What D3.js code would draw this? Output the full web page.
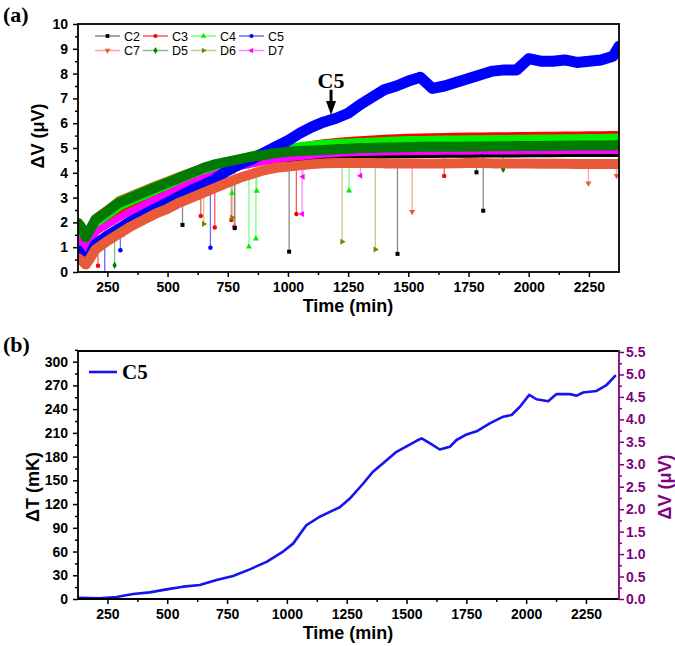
<!DOCTYPE html>
<html>
<head>
<meta charset="utf-8">
<script src="https://cdn.jsdelivr.net/npm/d3@7"></script>
<style>
  body { margin: 0; background: #fff; }
  svg text { font-family: Arial, "Liberation Sans", sans-serif; }
</style>
</head>
<body>
<svg id="chart" width="675" height="646"></svg>
<script>
// ---- panel (a) data: Delta V (uV) per sensor ----
const times = [130,145,160,175,200,250,300,350,400,450,500,550,600,650,700,750,800,850,900,950,1000,1050,1100,1150,1200,1250,1300,1350,1400,1450,1500,1550,1600,1650,1700,1750,1800,1850,1900,1950,2000,2050,2100,2150,2200,2250,2300,2350,2375];
const c2 = [0.7,0.5,0.33,0.58,1.0,1.35,1.65,1.95,2.2,2.45,2.65,2.9,3.1,3.3,3.5,3.7,3.9,4.05,4.2,4.3,4.4,4.45,4.5,4.55,4.58,4.6,4.62,4.63,4.64,4.65,4.65,4.66,4.66,4.67,4.67,4.67,4.68,4.68,4.68,4.68,4.69,4.69,4.69,4.7,4.7,4.7,4.7,4.7,4.7];
const c3 = [1.7,1.5,1.15,1.4,1.85,2.2,2.55,2.8,3.0,3.2,3.4,3.6,3.8,4.0,4.18,4.33,4.47,4.6,4.72,4.83,4.93,5.02,5.1,5.17,5.22,5.26,5.29,5.32,5.35,5.37,5.39,5.4,5.41,5.42,5.43,5.44,5.44,5.45,5.45,5.46,5.46,5.47,5.47,5.48,5.48,5.49,5.49,5.5,5.5];
const c4 = [1.8,1.6,1.25,1.5,1.95,2.3,2.65,2.88,3.08,3.3,3.5,3.7,3.9,4.1,4.28,4.42,4.55,4.68,4.8,4.9,4.98,5.05,5.1,5.15,5.18,5.2,5.22,5.24,5.26,5.28,5.3,5.3,5.31,5.32,5.32,5.33,5.33,5.34,5.34,5.35,5.35,5.36,5.36,5.37,5.37,5.38,5.38,5.39,5.4];
const c5 = [0.85,0.6,0.35,0.6,1.1,1.45,1.75,2.05,2.3,2.55,2.8,3.05,3.3,3.5,3.75,4.1,4.35,4.55,4.8,5.05,5.3,5.6,5.85,6.05,6.2,6.4,6.75,7.05,7.35,7.5,7.7,7.85,7.4,7.5,7.65,7.8,7.95,8.1,8.15,8.15,8.6,8.5,8.5,8.55,8.45,8.5,8.55,8.7,9.1];
const c7 = [0.55,0.45,0.3,0.5,0.9,1.25,1.55,1.85,2.1,2.35,2.55,2.8,3.0,3.2,3.4,3.6,3.8,3.95,4.1,4.2,4.25,4.3,4.35,4.38,4.4,4.4,4.4,4.4,4.38,4.38,4.38,4.38,4.37,4.37,4.38,4.4,4.4,4.38,4.38,4.37,4.37,4.36,4.36,4.36,4.35,4.35,4.35,4.35,4.35];
const d5 = [1.95,1.75,1.4,1.65,2.1,2.45,2.8,3.0,3.2,3.4,3.6,3.8,4.0,4.2,4.35,4.45,4.55,4.65,4.72,4.8,4.85,4.88,4.9,4.92,4.95,4.97,5.0,5.0,5.02,5.02,5.03,5.05,5.05,5.05,5.05,5.06,5.06,5.07,5.07,5.08,5.08,5.08,5.09,5.09,5.1,5.1,5.1,5.1,5.12];
const d6 = [2.0,1.8,1.45,1.7,2.15,2.5,2.88,3.08,3.28,3.48,3.66,3.85,4.03,4.2,4.33,4.42,4.5,4.58,4.63,4.68,4.72,4.75,4.77,4.78,4.8,4.8,4.82,4.82,4.83,4.83,4.84,4.85,4.85,4.85,4.85,4.86,4.86,4.86,4.86,4.87,4.87,4.87,4.88,4.88,4.88,4.88,4.88,4.89,4.9];
const d7 = [1.3,1.15,0.95,1.15,1.6,1.9,2.2,2.45,2.7,2.95,3.15,3.4,3.6,3.8,3.95,4.1,4.25,4.35,4.45,4.5,4.55,4.6,4.62,4.65,4.67,4.7,4.72,4.73,4.74,4.75,4.75,4.76,4.76,4.77,4.77,4.77,4.78,4.78,4.78,4.78,4.79,4.79,4.79,4.8,4.8,4.8,4.8,4.8,4.8];

// isolated drop-outs: [series, time, value]
const spikes = [
  ["C3",211,0.25],["C3",314,1.5],["C3",638,2.26],["C3",696,1.79],["C3",765,2.1],["C3",778,1.82],["C3",1035,2.34],["C3",1649,3.87],
  ["C5",239,-0.3],["C5",304,0.88],["C5",678,0.98],
  ["D5",280,0.27],["D5",1894,4.14],
  ["C2",562,1.9],["C2",779,1.77],["C2",1005,0.82],["C2",1455,0.73],["C2",1783,4.02],["C2",1811,2.47],
  ["D6",650,1.94],["D6",768,2.2],["D6",1225,1.22],["D6",1363,0.91],
  ["C4",768,3.18],["C4",838,1.02],["C4",867,1.34],["C4",870,3.27],["C4",1254,3.28],
  ["D7",1059,2.34],["D7",1062,3.84],["D7",1301,3.88],
  ["C7",1516,2.43],["C7",2248,3.58],["C7",2365,3.88]
];

const xTicksA = [250,500,750,1000,1250,1500,1750,2000,2250];
const xMinorA = [375,625,875,1125,1375,1625,1875,2125];
const yTicksA = [0,1,2,3,4,5,6,7,8,9,10];

// ---- panel (b) data: Delta T (mK) of C5 ----
const bTimes = [130,218,288,357,427,497,566,636,706,775,845,915,984,1026,1082,1137,1193,1221,1263,1319,1360,1402,1458,1500,1542,1563,1597,1639,1681,1709,1751,1793,1848,1904,1939,1974,2013,2043,2092,2127,2183,2211,2238,2294,2336,2375];
const bDeltaT = [1.5,1.0,2.5,6.3,8.4,12.2,15.6,17.7,24,29,37.5,47,60,70,93.5,104,112,116,127,146,161,171.5,186,193,200,203,197,189,192.5,201,208,212,222,230.5,232.6,243,258,252.5,250,259,259,257,261,263,270.5,283];
const yTicksB = [0,30,60,90,120,150,180,210,240,270,300];
const yTicksB2 = ["0.0","0.5","1.0","1.5","2.0","2.5","3.0","3.5","4.0","4.5","5.0","5.5"];

// ---- series styles ----
const series = [
  { name: "C2", values: c2, color: "#000000", legend: "#8a8a8a", sym: d3.symbolSquare, rot: 0, w: 3 },
  { name: "C3", values: c3, color: "#ff0000", legend: "#ff5a5a", sym: d3.symbolCircle, rot: 0, w: 9 },
  { name: "C4", values: c4, color: "#00ee00", legend: "#7cff7c", sym: d3.symbolTriangle, rot: 0, w: 9 },
  { name: "C5", values: c5, color: "#0000ff", legend: "#6a6aff", sym: d3.symbolCircle, rot: 0, w: 11 },
  { name: "C7", values: c7, color: "#e85a3a", legend: "#f7a898", sym: d3.symbolTriangle, rot: 180, w: 10 },
  { name: "D5", values: d5, color: "#007a00", legend: "#80bf80", sym: d3.symbolDiamond, rot: 0, w: 10 },
  { name: "D6", values: d6, color: "#808000", legend: "#c8c890", sym: d3.symbolTriangle, rot: 90, w: 9 },
  { name: "D7", values: d7, color: "#ff00ff", legend: "#ff88ff", sym: d3.symbolTriangle, rot: -90, w: 7 }
];
const byName = {};
series.forEach(s => byName[s.name] = s);
// draw order (last on top)
const drawOrder = ["C3", "C4", "D6", "D7", "C2", "C5", "C7", "D5"];

const serif = "'Liberation Serif', 'Times New Roman', serif";
const svg = d3.select("#chart");

// ================= panel (a) =================
const xA = d3.scaleLinear().domain([128, 2375]).range([78, 619]);
const yA = d3.scaleLinear().domain([0, 10]).range([272, 24]);

svg.append("clipPath").attr("id", "clipA")
  .append("rect").attr("x", 78).attr("y", 24).attr("width", 541).attr("height", 248);

const plotA = svg.append("g").attr("clip-path", "url(#clipA)");

const line = d3.line()
  .x((d, i) => xA(times[i]))
  .y(d => yA(d));

// spikes go under the bands
spikes.forEach(([name, t, v]) => {
  const s = byName[name];
  const band = d3.scaleLinear().domain(times).range(s.values);
  plotA.append("line")
    .attr("x1", xA(t)).attr("x2", xA(t))
    .attr("y1", yA(band(t))).attr("y2", yA(v))
    .attr("stroke", s.legend)
    .attr("stroke-width", 1.3);
  plotA.append("path")
    .attr("d", d3.symbol().type(s.sym).size(16)())
    .attr("transform", `translate(${xA(t)},${yA(v)}) rotate(${s.rot})`)
    .attr("fill", s.color);
});

drawOrder.forEach(name => {
  const s = byName[name];
  plotA.append("path")
    .datum(s.values)
    .attr("d", line)
    .attr("fill", "none")
    .attr("stroke", s.color)
    .attr("stroke-width", s.w)
    .attr("stroke-linejoin", "round")
    .attr("stroke-linecap", "round");
});

// axes (a)
const axA = svg.append("g");
axA.append("g").attr("transform", "translate(0,272)")
  .call(d3.axisBottom(xA).tickValues(xTicksA).tickSize(5).tickPadding(5).tickFormat(d3.format("d")));
axA.append("g").attr("transform", "translate(0,272)")
  .call(d3.axisBottom(xA).tickValues(xMinorA).tickSize(3).tickFormat(""));
axA.append("g").attr("transform", "translate(78,0)")
  .call(d3.axisLeft(yA).tickValues(yTicksA).tickSize(5).tickPadding(5));
axA.append("g").attr("transform", "translate(78,0)")
  .call(d3.axisLeft(yA).tickValues(yTicksA.slice(0, -1).map(v => v + 0.5)).tickSize(3).tickFormat(""));

axA.selectAll(".domain").remove();
axA.selectAll(".tick line").attr("stroke", "#000").attr("stroke-width", 1.5);
axA.selectAll(".tick text").attr("font-size", 14).attr("font-weight", "bold").attr("fill", "#000");

svg.append("rect")
  .attr("x", 78).attr("y", 24).attr("width", 541).attr("height", 248)
  .attr("fill", "none").attr("stroke", "#000").attr("stroke-width", 1.8);

// legend (a)
series.forEach((s, i) => {
  const col = i % 4, row = Math.floor(i / 4);
  const lx = 95 + col * 48, ly = 36 + row * 14.5;
  const g = svg.append("g");
  g.append("line")
    .attr("x1", lx).attr("x2", lx + 25).attr("y1", ly).attr("y2", ly)
    .attr("stroke", s.legend).attr("stroke-width", 1.5);
  g.append("path")
    .attr("d", d3.symbol().type(s.sym).size(14)())
    .attr("transform", `translate(${lx + 12.5},${ly}) rotate(${s.rot})`)
    .attr("fill", s.color);
  g.append("text")
    .attr("x", lx + 29).attr("y", ly + 4.5)
    .attr("font-size", 12.5)
    .text(s.name);
});

// C5 arrow annotation
const arrowT = 1179;
svg.append("text")
  .attr("x", xA(arrowT)).attr("y", yA(7.42))
  .attr("text-anchor", "middle")
  .style("font-family", serif)
  .attr("font-weight", "bold").attr("font-size", 22)
  .text("C5");
svg.append("line")
  .attr("x1", xA(arrowT)).attr("x2", xA(arrowT))
  .attr("y1", yA(7.35)).attr("y2", yA(6.85))
  .attr("stroke", "#000").attr("stroke-width", 3);
svg.append("path")
  .attr("d", `M${xA(arrowT) - 5},${yA(6.9)} L${xA(arrowT) + 5},${yA(6.9)} L${xA(arrowT)},${yA(6.33)} Z`)
  .attr("fill", "#000");

svg.append("text")
  .attr("x", 348).attr("y", 312)
  .attr("text-anchor", "middle")
  .attr("font-size", 18).attr("font-weight", "bold")
  .text("Time (min)");
svg.append("text")
  .attr("transform", "translate(44,136) rotate(-90)")
  .attr("text-anchor", "middle")
  .attr("font-size", 18).attr("font-weight", "bold")
  .text("ΔV (μV)");
svg.append("text")
  .attr("x", 3).attr("y", 22)
  .style("font-family", serif)
  .attr("font-weight", "bold").attr("font-size", 22)
  .text("(a)");

// ================= panel (b) =================
const xB = d3.scaleLinear().domain([127, 2388]).range([78, 619]);
const yB = d3.scaleLinear().domain([0, 313.5]).range([599, 351]);
const yB2 = d3.scaleLinear().domain([0, 5.5]).range([599, 352]);
const purple = "#800080";

svg.append("path")
  .datum(bDeltaT)
  .attr("d", d3.line().x((d, i) => xB(bTimes[i])).y(d => yB(d)))
  .attr("fill", "none")
  .attr("stroke", "#1414f0")
  .attr("stroke-width", 2.6)
  .attr("stroke-linejoin", "round");

const axB = svg.append("g");
axB.append("g").attr("transform", "translate(0,599)")
  .call(d3.axisBottom(xB).tickValues(xTicksA).tickSize(5).tickPadding(5).tickFormat(d3.format("d")));
axB.append("g").attr("transform", "translate(0,599)")
  .call(d3.axisBottom(xB).tickValues(xMinorA).tickSize(3).tickFormat(""));
axB.append("g").attr("transform", "translate(78,0)")
  .call(d3.axisLeft(yB).tickValues(yTicksB).tickSize(5).tickPadding(5));
axB.append("g").attr("transform", "translate(78,0)")
  .call(d3.axisLeft(yB).tickValues(yTicksB.map(v => v + 15)).tickSize(3).tickFormat(""));
axB.selectAll(".domain").remove();
axB.selectAll(".tick line").attr("stroke", "#000").attr("stroke-width", 1.5);
axB.selectAll(".tick text").attr("font-size", 14).attr("font-weight", "bold").attr("fill", "#000");

const rightB = svg.append("g").attr("transform", "translate(619,0)");
rightB.append("g")
  .call(d3.axisRight(yB2).tickValues(yTicksB2.map(Number)).tickSize(5).tickPadding(2)
    .tickFormat((d, i) => yTicksB2[i]));
rightB.append("g")
  .call(d3.axisRight(yB2).tickValues(yTicksB2.slice(0, -1).map(v => +v + 0.25)).tickSize(3).tickFormat(""));
rightB.selectAll(".domain").remove();
rightB.selectAll(".tick line").attr("stroke", purple).attr("stroke-width", 1.5);
rightB.selectAll(".tick text").attr("font-size", 14).attr("font-weight", "bold").attr("fill", purple);

// frame (b)
svg.append("path")
  .attr("d", "M619,351 L78,351 L78,599 L619,599")
  .attr("fill", "none").attr("stroke", "#000").attr("stroke-width", 1.8);
svg.append("line")
  .attr("x1", 619).attr("x2", 619).attr("y1", 350).attr("y2", 600)
  .attr("stroke", purple).attr("stroke-width", 1.8);

// legend (b)
svg.append("line")
  .attr("x1", 89).attr("x2", 117).attr("y1", 372).attr("y2", 372)
  .attr("stroke", "#1414f0").attr("stroke-width", 2.6);
svg.append("text")
  .attr("x", 122).attr("y", 379)
  .style("font-family", serif)
  .attr("font-weight", "bold").attr("font-size", 21)
  .text("C5");

svg.append("text")
  .attr("x", 348).attr("y", 639)
  .attr("text-anchor", "middle")
  .attr("font-size", 18).attr("font-weight", "bold")
  .text("Time (min)");
svg.append("text")
  .attr("transform", "translate(39,487) rotate(-90)")
  .attr("text-anchor", "middle")
  .attr("font-size", 18).attr("font-weight", "bold")
  .text("ΔT (mK)");
svg.append("text")
  .attr("transform", "translate(671,487) rotate(-90)")
  .attr("text-anchor", "middle")
  .attr("font-size", 18).attr("font-weight", "bold")
  .attr("fill", purple)
  .text("ΔV (μV)");
svg.append("text")
  .attr("x", 3).attr("y", 352)
  .style("font-family", serif)
  .attr("font-weight", "bold").attr("font-size", 22)
  .text("(b)");
</script>
</body>
</html>
